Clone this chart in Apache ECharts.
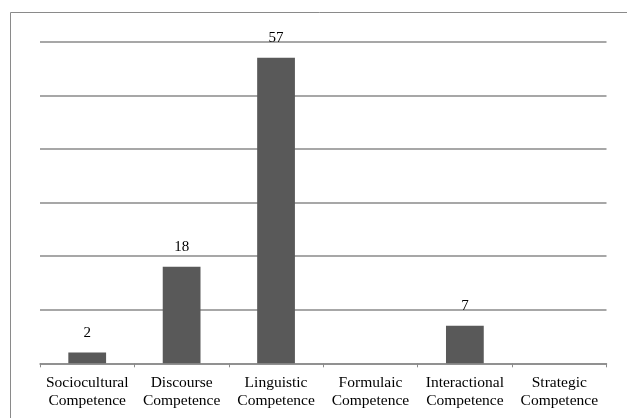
<!DOCTYPE html>
<html>
<head>
<meta charset="utf-8">
<script src="https://cdn.jsdelivr.net/npm/echarts@6/dist/echarts.min.js"></script>
<style>
  html, body { margin: 0; padding: 0; background: #ffffff; }
  #chart { width: 627px; height: 418px; }
</style>
</head>
<body>
<div id="chart"></div>
<script>
// Competence categories (two-line labels)
const categories = [
  'Sociocultural\nCompetence',
  'Discourse\nCompetence',
  'Linguistic\nCompetence',
  'Formulaic\nCompetence',
  'Interactional\nCompetence',
  'Strategic\nCompetence'
];
// Counts per competence; empty where no bar is drawn
const counts = [2, 18, 57, null, 7, null];
// Value axis range
const axisMin = 0;
const axisMax = 60;
const axisStep = 10;

const chart = echarts.init(document.getElementById('chart'), null, { renderer: 'canvas' });
chart.setOption({
  animation: false,
  backgroundColor: '#ffffff',
  graphic: [{
    type: 'rect',
    shape: { x: 10.5, y: 12.5, width: 640, height: 430 },
    style: { fill: 'none', stroke: '#8a8a8a', lineWidth: 1 },
    silent: true
  }],
  grid: { left: 40, right: 20.5, top: 41.7, bottom: 54.7, containLabel: false },
  xAxis: {
    type: 'category',
    data: categories,
    axisLine: { show: true, lineStyle: { color: '#8a8a8a', width: 1.5 } },
    axisTick: { show: true, length: 4, lineStyle: { color: '#8a8a8a', width: 1 } },
    axisLabel: {
      color: '#000000',
      fontFamily: 'Liberation Serif',
      fontSize: 15.5,
      lineHeight: 18.5,
      margin: 10,
      interval: 0
    }
  },
  yAxis: {
    type: 'value',
    min: axisMin,
    max: axisMax,
    interval: axisStep,
    axisLine: { show: false },
    axisTick: { show: false },
    axisLabel: { show: false },
    splitLine: { show: true, lineStyle: { color: '#8a8a8a', width: 1.5 } }
  },
  series: [{
    type: 'bar',
    data: counts,
    barWidth: '40%',
    itemStyle: { color: '#595959' },
    label: {
      show: true,
      position: 'top',
      distance: 12,
      color: '#000000',
      fontFamily: 'Liberation Serif',
      fontSize: 15
    }
  }]
});
</script>
</body>
</html>
